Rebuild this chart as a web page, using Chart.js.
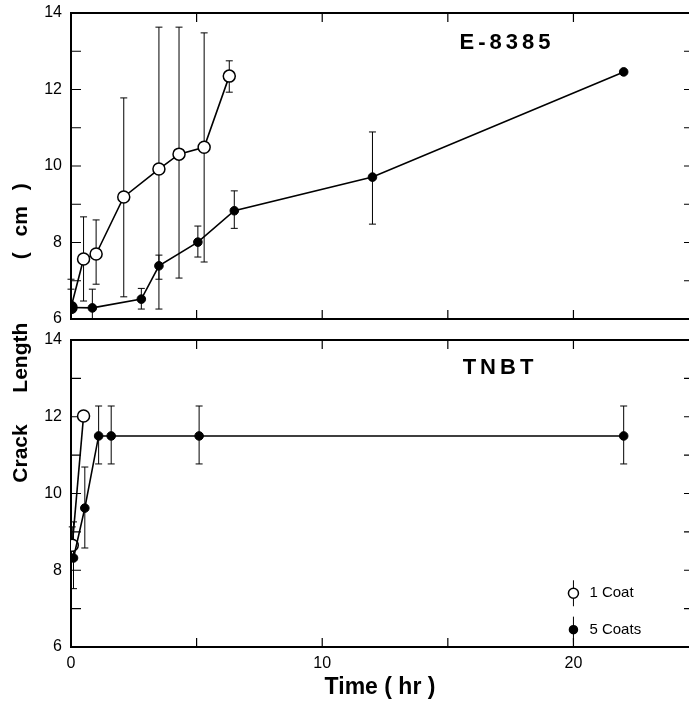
<!DOCTYPE html>
<html>
<head>
<meta charset="utf-8">
<script src="https://cdn.jsdelivr.net/npm/chart.js@4/dist/chart.umd.min.js"></script>
<style>
  html, body { margin: 0; padding: 0; background: #fff; }
  #wrap { position: relative; width: 691px; height: 704px; font-family: "Liberation Sans", Arial, sans-serif; color: #000; }
  canvas { position: absolute; left: 0; }
  .lbl { position: absolute; font-weight: bold; text-align: center; white-space: pre; }
</style>
</head>
<body>
<div id="wrap">
  <canvas id="top" width="691" height="330" style="top:0"></canvas>
  <canvas id="bottom" width="691" height="374" style="top:330px"></canvas>
  <div class="lbl" style="left:407px;top:29px;width:200px;font-size:22px;letter-spacing:4px;">E-8385</div>
  <div class="lbl" style="left:400px;top:354px;width:200px;font-size:22px;letter-spacing:4px;">TNBT</div>
  <div class="lbl" style="left:-180px;top:321px;width:400px;font-size:21px;line-height:24px;word-spacing:10px;transform:rotate(-90deg);">Crack  Length    ( cm )</div>
</div>
<script>
// E-8385 panel
const e8385OneCoatX = [0, 0.5, 1.0, 2.1, 3.5, 4.3, 5.3, 6.3];
const e8385OneCoatY = [6.3, 7.57, 7.7, 9.19, 9.92, 10.31, 10.49, 12.35];
const e8385OneCoatHi = [7.04, 8.67, 8.59, 11.78, 13.63, 13.63, 13.48, 12.75];
const e8385OneCoatLo = [null, 6.47, 6.91, 6.58, 6.26, 7.07, 7.49, 11.93];

const e8385FiveCoatsX = [0, 0.85, 2.8, 3.5, 5.05, 6.5, 12.0, 22.0];
const e8385FiveCoatsY = [6.3, 6.29, 6.52, 7.39, 8.01, 8.83, 9.71, 12.46];
const e8385FiveCoatsHi = [6.78, 6.78, 6.8, 7.67, 8.43, 9.35, 10.89, null];
const e8385FiveCoatsLo = [null, 6.0, 6.26, 7.04, 7.62, 8.37, 8.48, null];

// TNBT panel
const tnbtOneCoatX = [0.05, 0.5];
const tnbtOneCoatY = [8.65, 12.02];
const tnbtOneCoatHi = [9.13, null];
const tnbtOneCoatLo = [null, null];

const tnbtFiveCoatsX = [0.1, 0.55, 1.1, 1.6, 5.1, 22.0];
const tnbtFiveCoatsY = [8.32, 9.62, 11.5, 11.5, 11.5, 11.5];
const tnbtFiveCoatsHi = [9.26, 10.69, 12.28, 12.28, 12.28, 12.28];
const tnbtFiveCoatsLo = [7.52, 8.58, 10.77, 10.77, 10.77, 10.77];

const xMin = 0, xMax = 24.6;
const yMin = 6, yMax = 14;
const legendLabels = ['1 Coat', '5 Coats'];
const xTitle = 'Time ( hr )';

const font = '"Liberation Sans", Arial, sans-serif';

function toPoints(xs, ys) {
    return xs.map((x, i) => ({ x: x, y: ys[i] }));
}

// vertical error bars with small caps
const errorBars = {
    id: 'errorBars',
    beforeDatasetsDraw(chart) {
        const { ctx, scales: { x, y } } = chart;
        ctx.save();
        ctx.strokeStyle = '#000';
        ctx.lineWidth = 1;
        chart.data.datasets.forEach(ds => {
            ds.data.forEach((p, i) => {
                const px = x.getPixelForValue(p.x);
                const py = y.getPixelForValue(p.y);
                [ds.errHi[i], ds.errLo[i]].forEach(v => {
                    if (v === null || v === undefined) return;
                    const ey = y.getPixelForValue(v);
                    ctx.beginPath();
                    ctx.moveTo(px, py);
                    ctx.lineTo(px, ey);
                    ctx.moveTo(px - 3.5, ey);
                    ctx.lineTo(px + 3.5, ey);
                    ctx.stroke();
                });
            });
        });
        ctx.restore();
    }
};

// box with inward ticks, like the printed figure
const frame = {
    id: 'frame',
    beforeDatasetsDraw(chart) {
        const { ctx, chartArea: a, scales: { x, y } } = chart;
        ctx.save();
        ctx.strokeStyle = '#000';
        ctx.lineWidth = 2;
        ctx.beginPath();
        ctx.moveTo(a.right, a.top);
        ctx.lineTo(a.left, a.top);
        ctx.lineTo(a.left, a.bottom);
        ctx.lineTo(a.right, a.bottom);
        ctx.stroke();
        ctx.lineWidth = 1.2;
        ctx.beginPath();
        for (let v = 5; v < x.max; v += 5) {
            const px = x.getPixelForValue(v);
            ctx.moveTo(px, a.top);
            ctx.lineTo(px, a.top + 9);
            ctx.moveTo(px, a.bottom);
            ctx.lineTo(px, a.bottom - 9);
        }
        for (let v = y.min + 1; v < y.max; v++) {
            const py = y.getPixelForValue(v);
            ctx.moveTo(a.left, py);
            ctx.lineTo(a.left + 10, py);
            ctx.moveTo(a.right, py);
            ctx.lineTo(a.right - 5, py);
        }
        ctx.stroke();
        ctx.restore();
    }
};

const coatLegend = {
    id: 'coatLegend',
    afterDraw(chart) {
        const { ctx, scales: { x, y } } = chart;
        const px = x.getPixelForValue(20);
        ctx.save();
        ctx.strokeStyle = '#000';
        ctx.fillStyle = '#000';
        ctx.font = '15px ' + font;
        ctx.textBaseline = 'middle';
        [7.4, 6.4].forEach((v, i) => {
            const py = y.getPixelForValue(v) - (i === 0 ? 0 : 2);
            ctx.lineWidth = 1;
            ctx.beginPath();
            ctx.moveTo(px, py - 13);
            ctx.lineTo(px, py + 13);
            ctx.stroke();
            ctx.beginPath();
            ctx.arc(px, py, i === 0 ? 5 : 4, 0, Math.PI * 2);
            ctx.fillStyle = i === 0 ? '#fff' : '#000';
            ctx.fill();
            ctx.lineWidth = 1.5;
            ctx.stroke();
            ctx.fillStyle = '#000';
            ctx.fillText(legendLabels[i], px + 16, py);
        });
        ctx.restore();
    }
};

function makeDatasets(panel, oneX, oneY, oneHi, oneLo, fiveX, fiveY, fiveHi, fiveLo) {
    return [
        {
            label: legendLabels[1],
            data: toPoints(fiveX, fiveY),
            errHi: fiveHi,
            errLo: fiveLo,
            borderColor: '#000',
            borderWidth: 1.6,
            pointRadius: 4.3,
            pointBackgroundColor: '#000',
            pointBorderColor: '#000',
            pointBorderWidth: 1,
            tension: 0
        },
        {
            label: legendLabels[0],
            data: toPoints(oneX, oneY),
            errHi: oneHi,
            errLo: oneLo,
            borderColor: '#000',
            borderWidth: 1.6,
            pointRadius: 6,
            pointBackgroundColor: c => (panel === 'top' && c.dataIndex === 0) ? '#000' : '#fff',
            pointBorderColor: '#000',
            pointBorderWidth: 1.5,
            tension: 0
        }
    ];
}

function makeOptions(showX) {
    return {
        responsive: false,
        animation: false,
        layout: {
            autoPadding: false,
            padding: showX ? { top: 10, right: 2, bottom: 0, left: 0 } : { top: 13, right: 2, bottom: 11, left: 0 }
        },
        plugins: { legend: { display: false }, tooltip: { enabled: false } },
        scales: {
            x: {
                type: 'linear',
                min: xMin,
                max: xMax,
                display: showX,
                grid: { display: false, drawTicks: false },
                border: { display: false },
                ticks: { stepSize: 10, includeBounds: false, padding: 7, color: '#000', font: { family: font, size: 16 } },
                title: { display: true, text: xTitle, color: '#000', padding: { top: 0, bottom: 3 }, font: { family: font, size: 23, weight: 'bold' } },
                afterFit: s => {
                    s.height = showX ? 57 : 0;
                    s.paddingLeft = 0;
                    s.paddingRight = 0;
                }
            },
            y: {
                min: yMin,
                max: yMax,
                grid: { display: false, drawTicks: false },
                border: { display: false },
                ticks: {
                    stepSize: 1,
                    padding: 9,
                    color: '#000',
                    font: { family: font, size: 16 },
                    callback: v => (v % 2 === 0 ? v : '')
                },
                afterFit: s => {
                    s.width = 71;
                    s.paddingTop = 0;
                    s.paddingBottom = 0;
                }
            }
        }
    };
}

new Chart(document.getElementById('top'), {
    type: 'line',
    data: { datasets: makeDatasets('top', e8385OneCoatX, e8385OneCoatY, e8385OneCoatHi, e8385OneCoatLo,
        e8385FiveCoatsX, e8385FiveCoatsY, e8385FiveCoatsHi, e8385FiveCoatsLo) },
    options: makeOptions(false),
    plugins: [frame, errorBars]
});

new Chart(document.getElementById('bottom'), {
    type: 'line',
    data: { datasets: makeDatasets('bottom', tnbtOneCoatX, tnbtOneCoatY, tnbtOneCoatHi, tnbtOneCoatLo,
        tnbtFiveCoatsX, tnbtFiveCoatsY, tnbtFiveCoatsHi, tnbtFiveCoatsLo) },
    options: makeOptions(true),
    plugins: [frame, errorBars, coatLegend]
});
</script>
</body>
</html>
